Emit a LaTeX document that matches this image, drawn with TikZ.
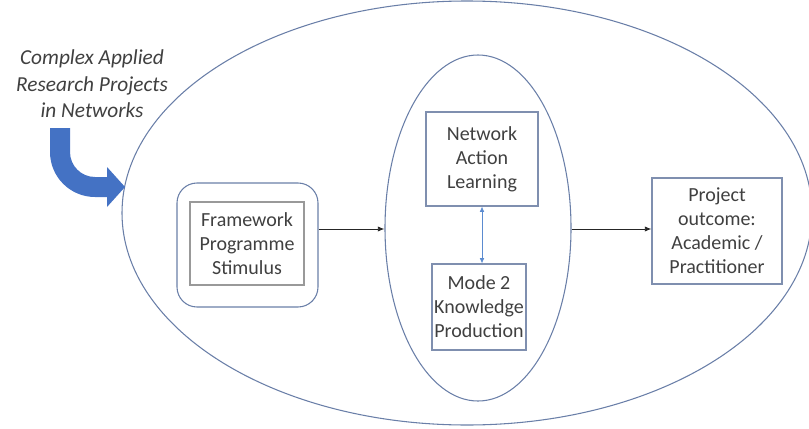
\documentclass[tikz,border=0pt]{standalone}
\usepackage{fontspec}
\setmainfont{Carlito}
\usetikzlibrary{arrows.meta,shapes.geometric}
\definecolor{edge}{HTML}{6A7FA8}
\definecolor{boxedge}{HTML}{7F8FAF}
\definecolor{txt}{HTML}{404040}
\definecolor{bigblue}{HTML}{4472C4}
\definecolor{dblue}{HTML}{5B8BD0}
\begin{document}
\begin{tikzpicture}[x=0.75pt,y=-0.75pt,
  every node/.style={text=txt,font=\fontsize{15}{18}\selectfont,align=center,inner sep=0pt},
  boxed/.style={draw=boxedge,line width=0.8pt},
  conn/.style={draw=black!85,line width=0.7pt,-{Latex[length=5pt,width=4pt]}}]
\useasboundingbox (0,0) rectangle (809,428);
% big ellipse
\node[draw=edge,line width=0.8pt,ellipse,minimum width=690*0.75pt,minimum height=424*0.75pt] (big) at (467,213) {};
% inner ellipse
\node[draw=edge,line width=0.8pt,ellipse,minimum width=186*0.75pt,minimum height=346*0.75pt] (inner) at (478,228) {};
% framework
\node[draw=edge,line width=0.8pt,rounded corners=15pt,minimum width=141*0.75pt,minimum height=124*0.75pt] (fouter) at (247.5,245) {};
\node[draw=black!40,line width=0.8pt,minimum width=114*0.75pt,minimum height=83*0.75pt] (finner) at (247,243.5) {Framework\\Programme\\Stimulus};
% network
\node[boxed,minimum width=112*0.75pt,minimum height=94*0.75pt] (nal) at (482,159) {Network\\Action\\Learning};
\node[boxed,minimum width=94*0.75pt,minimum height=86*0.75pt] (mode) at (479,307) {Mode 2\\Knowledge\\Production};
% project
\node[boxed,minimum width=130*0.75pt,minimum height=106*0.75pt] (proj) at (717,231) {Project\\outcome:\\Academic /\\Practitioner};
% connectors
\draw[conn] (fouter.east |- 0,229) -- (inner.west |- 0,229);
\draw[conn] (inner.east |- 0,229) -- (proj.west |- 0,229);
\draw[draw=dblue,line width=0.6pt,{Latex[length=4pt,width=3.5pt]}-{Latex[length=4pt,width=3.5pt]}] (nal.south) -- (nal.south |- mode.north);
% label
\node[font=\fontsize{16}{20}\selectfont\itshape] (lab) at (92,84) {Complex Applied\\Research Projects\\in Networks};
% blue bent arrow
\fill[bigblue] (50,128) -- (70,128) -- (70,152) arc[start angle=180,end angle=270,radius=25*0.75pt] -- (107,177) -- (107,167) -- (125,187) -- (107,207) -- (107,197) -- (95,197) arc[start angle=270,end angle=180,radius=45*0.75pt] -- cycle;
\end{tikzpicture}
\end{document}
